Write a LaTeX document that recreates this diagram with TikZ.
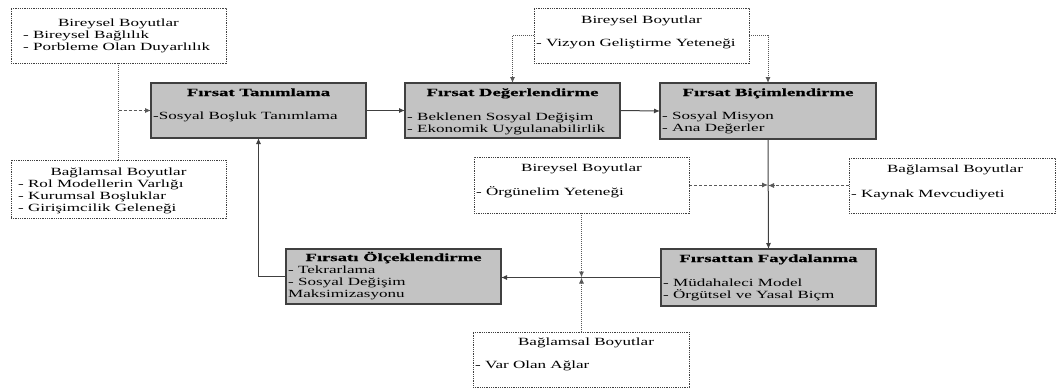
\documentclass[tikz,border=0pt]{standalone}
\usepackage{fontspec}
\setmainfont{Liberation Serif}[FakeStretch=1.55, BoldFeatures={FakeStretch=1.7, FakeBold=0.6}]
\usetikzlibrary{arrows.meta}
\begin{document}
\begin{tikzpicture}[x=1pt,y=-1pt,
  gbox/.style={draw=black!75, line width=1.2pt, fill={rgb,255:red,195;green,195;blue,195}, inner sep=0pt, outer sep=0pt, anchor=north west},
  dbox/.style={draw=black!75, line width=0.9pt, dash pattern=on 0.9pt off 0.9pt, inner sep=0pt, outer sep=0pt, anchor=north west},
  tit/.style={font=\fontsize{11}{12}\selectfont\bfseries, text=black, anchor=base, inner sep=0pt},
  ttl/.style={font=\fontsize{11}{12}\selectfont, text=black, anchor=base, inner sep=0pt},
  txt/.style={font=\fontsize{11}{12}\selectfont, text=black, anchor=base west, inner sep=0pt},
  flow/.style={draw=black!75, line width=1pt, -{Latex[length=6pt,width=5pt]}},
  dflow/.style={draw=black!65, line width=0.9pt, dash pattern=on 3pt off 2pt, -{Latex[length=6pt,width=5pt]}},
  dotflow/.style={draw=black!65, line width=0.9pt, dash pattern=on 1pt off 1pt, -{Latex[length=6pt,width=5pt]}},
  dotline/.style={draw=black!65, line width=0.9pt, dash pattern=on 1pt off 1pt}]
\useasboundingbox (0,0) rectangle (1056,389);

% dotted boxes
\node[dbox, minimum width=215, minimum height=55] (tl) at (11,8) {};
\node[dbox, minimum width=215, minimum height=58] (bl) at (11,160) {};
\node[dbox, minimum width=215, minimum height=55] (viz) at (534,8) {};
\node[dbox, minimum width=215, minimum height=56] (org) at (474,157) {};
\node[dbox, minimum width=206, minimum height=55] (kay) at (849,158) {};
\node[dbox, minimum width=216, minimum height=55] (var) at (473,332) {};

% grey boxes
\node[gbox, minimum width=215, minimum height=55] (tan) at (151,83) {};
\node[gbox, minimum width=215, minimum height=55] (deg) at (405,83) {};
\node[gbox, minimum width=216, minimum height=56] (bic) at (660,83) {};
\node[gbox, minimum width=215, minimum height=57] (fay) at (661,249) {};
\node[gbox, minimum width=215, minimum height=55] (olc) at (286,249) {};

% texts
\node[ttl] (tlT) at (118.5,26) {Bireysel Boyutlar};
\node[txt] (tl1) at (23,38) {- Bireysel Bağlılık};
\node[txt] (tl2) at (23,50) {- Porbleme Olan Duyarlılık};

\node[ttl] (blT) at (118.5,175) {Bağlamsal Boyutlar};
\node[txt] (bl1) at (18,187) {- Rol Modellerin Varlığı};
\node[txt] (bl2) at (18,199) {- Kurumsal Boşluklar};
\node[txt] (bl3) at (18,211) {- Girişimcilik Geleneği};

\node[ttl] (vizT) at (641.5,23) {Bireysel Boyutlar};
\node[txt] (viz1) at (536,46) {- Vizyon Geliştirme Yeteneği};

\node[ttl] (orgT) at (581.5,171) {Bireysel Boyutlar};
\node[txt] (org1) at (476,195) {- Örgünelim Yeteneği};

\node[ttl] (kayT) at (955,172) {Bağlamsal Boyutlar};
\node[txt] (kay1) at (851,197) {- Kaynak Mevcudiyeti};

\node[ttl] (varT) at (586,345) {Bağlamsal Boyutlar};
\node[txt] (var1) at (475,368) {- Var Olan Ağlar};

\node[tit] (tanT) at (258.5,96) {Fırsat Tanımlama};
\node[txt] (tan1) at (153,119) {-Sosyal Boşluk Tanımlama};

\node[tit] (degT) at (512.5,96) {Fırsat Değerlendirme};
\node[txt] (deg1) at (407,120) {- Beklenen Sosyal Değişim};
\node[txt] (deg2) at (407,132) {- Ekonomik Uygulanabilirlik};

\node[tit] (bicT) at (768,96) {Fırsat Biçimlendirme};
\node[txt] (bic1) at (662,119) {- Sosyal Misyon};
\node[txt] (bic2) at (662,131) {- Ana Değerler};

\node[tit] (fayT) at (768.5,262) {Fırsattan Faydalanma};
\node[txt] (fay1) at (663,286) {- Müdahaleci Model};
\node[txt] (fay2) at (663,298) {- Örgütsel ve Yasal Biçm};

\node[tit] (olcT) at (393.5,261) {Fırsatı Ölçeklendirme};
\node[txt] (olc1) at (288,273) {- Tekrarlama};
\node[txt] (olc2) at (288,285) {- Sosyal Değişim};
\node[txt] (olc3) at (288,297) {Maksimizasyonu};

% main flow
\draw[flow] (tan.east) -- (deg.west);
\draw[flow] (deg.east) -- (bic.west);
\draw[flow] (bic.south) -- (fay.north);
\draw[flow] (fay.west) -- (fay.west -| olc.east);
\draw[flow] (olc.west) -| (tan.south);

% dimension connectors
\draw[dotline] (tl.south) -- (bl.north);
\draw[dflow] (tl.south |- tan.west) -- (tan.west);
\draw[dotflow] (viz.west) -| (deg.north);
\draw[dotflow] (viz.east) -| (bic.north);
\draw[dflow] (org.east) -- (org.east -| bic.south);
\draw[dflow] (kay.west) -- (kay.west -| bic.south);
\draw[dotflow] (org.south) -- (org.south |- fay.west);
\draw[dotflow] (org.south |- var.north) -- (org.south |- fay.west);
\end{tikzpicture}
\end{document}
